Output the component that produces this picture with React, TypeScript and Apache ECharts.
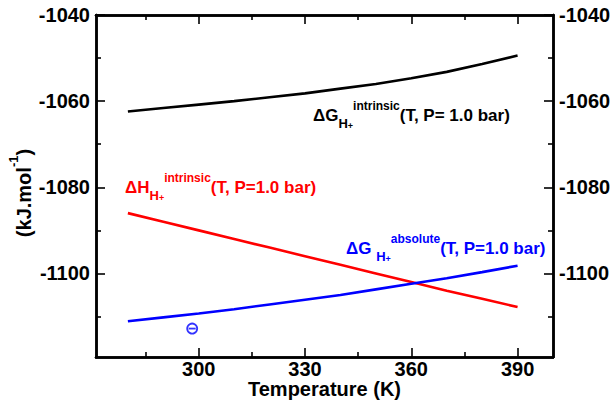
import { useEffect, useRef } from "react";
import * as echarts from "echarts";

const temperatures = [280, 290, 300, 310, 320, 330, 340, 350, 360, 370, 380, 390];
const dgIntrinsic = [-1062.4, -1061.6, -1060.8, -1060.0, -1059.1, -1058.2, -1057.1, -1056.0, -1054.7, -1053.2, -1051.4, -1049.4];
const dhIntrinsic = [-1086.0, -1088.0, -1090.0, -1092.0, -1094.0, -1096.0, -1098.0, -1100.0, -1102.0, -1104.0, -1105.9, -1107.8];
const dgAbsolute = [-1111.1, -1110.2, -1109.3, -1108.3, -1107.2, -1106.1, -1105.0, -1103.7, -1102.4, -1101.1, -1099.7, -1098.2];
const expPoint = [298.15, -1112.8];

const xMajorTicks = [300, 330, 360, 390];
const xMinorTicks = [285, 315, 345, 375];
const yMajorTicks = [-1100, -1080, -1060, -1040];
const yMinorTicks = [-1110, -1090, -1070, -1050];

const X_MIN = 271;
const X_MAX = 400;
const Y_MIN = -1119.4;
const Y_MAX = -1040;

const FONT = "'Liberation Sans', Arial, Helvetica, sans-serif";

const pairs = (ys: number[]) => temperatures.map((t, i) => [t, ys[i]]);
const plain = (v: number) => String(Math.round(v));

function xAxisDef(position: string, ticks: number[], len: number, labels: boolean, extra: any = {}) {
  return {
    type: "value",
    position,
    min: X_MIN,
    max: X_MAX,
    axisLine: { show: true, onZero: false, lineStyle: { color: "#000", width: 2.5 } },
    axisTick: { show: true, inside: true, length: len, customValues: ticks, lineStyle: { color: "#000", width: 1.6 } },
    axisLabel: labels
      ? { show: true, customValues: ticks, formatter: plain, color: "#000", fontSize: 20, fontWeight: "bold", fontFamily: FONT, margin: 4, lineHeight: 16 }
      : { show: false },
    splitLine: { show: false },
    ...extra,
  };
}

function yAxisDef(position: string, ticks: number[], len: number, labels: boolean, extra: any = {}) {
  return {
    type: "value",
    position,
    min: Y_MIN,
    max: Y_MAX,
    axisLine: { show: true, onZero: false, lineStyle: { color: "#000", width: 2.5 } },
    axisTick: { show: true, inside: true, length: len, customValues: ticks, lineStyle: { color: "#000", width: 1.6 } },
    axisLabel: labels
      ? { show: true, customValues: ticks, formatter: plain, color: "#000", fontSize: 20, fontWeight: "bold", fontFamily: FONT, margin: 6 }
      : { show: false },
    splitLine: { show: false },
    ...extra,
  };
}

function richLabel(color: string) {
  return {
    m: { fontSize: 17, fontWeight: "bold", fontFamily: FONT, lineHeight: 30, verticalAlign: "middle", fill: color, color },
    sup: { fontSize: 12, fontWeight: "bold", fontFamily: FONT, lineHeight: 10, verticalAlign: "top", fill: color, color },
    sub: { fontSize: 13, fontWeight: "bold", fontFamily: FONT, lineHeight: 16, verticalAlign: "bottom", fill: color, color },
    plus: { fontSize: 9, fontWeight: "bold", fontFamily: FONT, lineHeight: 22, verticalAlign: "bottom", fill: color, color },
  };
}

export default function App() {
  const ref = useRef<HTMLDivElement>(null);
  useEffect(() => {
    if (!ref.current) return;
    const chart = echarts.init(ref.current, undefined, { renderer: "svg" });
    chart.setOption({
      animation: false,
      backgroundColor: "#fff",
      textStyle: { fontFamily: FONT },
      grid: { left: 96, right: 61, top: 15, bottom: 43, containLabel: false, outerBoundsMode: "none" },
      xAxis: [
        xAxisDef("bottom", xMajorTicks, 9, true, {
          name: "Temperature (K)",
          nameLocation: "middle",
          nameGap: 24,
          nameMoveOverlap: false,
          nameTextStyle: { color: "#000", fontSize: 20, fontWeight: "bold", fontFamily: FONT, lineHeight: 16 },
        }),
        xAxisDef("bottom", xMinorTicks, 5, false),
        xAxisDef("top", xMajorTicks, 9, false),
        xAxisDef("top", xMinorTicks, 5, false),
      ],
      yAxis: [
        yAxisDef("left", yMajorTicks, 9, true),
        yAxisDef("left", yMinorTicks, 5, false),
        yAxisDef("right", yMajorTicks, 9, true),
        yAxisDef("right", yMinorTicks, 5, false),
      ],
      series: [
        {
          type: "line",
          data: pairs(dgIntrinsic),
          showSymbol: false,
          smooth: false,
          lineStyle: { color: "#000000", width: 2.6 },
          itemStyle: { color: "#000000" },
        },
        {
          type: "line",
          data: pairs(dhIntrinsic),
          showSymbol: false,
          smooth: false,
          lineStyle: { color: "#ff0000", width: 2.6 },
          itemStyle: { color: "#ff0000" },
        },
        {
          type: "line",
          data: pairs(dgAbsolute),
          showSymbol: false,
          smooth: false,
          lineStyle: { color: "#0000ff", width: 2.6 },
          itemStyle: { color: "#0000ff" },
        },
        {
          type: "scatter",
          data: [expPoint],
          symbol: "circle",
          symbolSize: 10,
          itemStyle: { color: "#ffffff", borderColor: "#0000ff", borderWidth: 1.8 },
          z: 5,
        },
        {
          type: "scatter",
          data: [expPoint],
          symbol: "rect",
          symbolSize: [7, 1.8],
          itemStyle: { color: "#0000ff" },
          z: 6,
        },
      ],
      graphic: [
        {
          type: "text",
          x: 24,
          y: 193,
          rotation: Math.PI / 2,
          style: {
            text: "{m|(kJ.mol}{s|-1}{m|)}",
            align: "center",
            verticalAlign: "middle",
            fill: "#000",
            rich: {
              m: { fontSize: 20, fontWeight: "bold", fontFamily: FONT, lineHeight: 34, verticalAlign: "middle", fill: "#000", color: "#000" },
              s: { fontSize: 13, fontWeight: "bold", fontFamily: FONT, lineHeight: 10, verticalAlign: "top", fill: "#000", color: "#000" },
            },
          },
        },
        {
          type: "text",
          x: 313,
          y: 100,
          style: {
            text: "{m|ΔG}{sub|H}{plus|+}{sup|intrinsic}{m|(T, P= 1.0 bar)}",
            rich: richLabel("#000000"),
            fill: "#000000",
            verticalAlign: "top",
          },
        },
        {
          type: "text",
          x: 125,
          y: 172,
          style: {
            text: "{m|ΔH}{sub|H}{plus|+}{sup|intrinsic}{m|(T, P=1.0 bar)}",
            rich: richLabel("#ff0000"),
            fill: "#ff0000",
            verticalAlign: "top",
          },
        },
        {
          type: "text",
          x: 346,
          y: 233,
          style: {
            text: "{m|ΔG }{sub|H}{plus|+}{sup|absolute}{m|(T, P=1.0 bar)}",
            rich: richLabel("#0000ff"),
            fill: "#0000ff",
            verticalAlign: "top",
          },
        },
      ],
    });
    return () => chart.dispose();
  }, []);
  return <div ref={ref} style={{ position: "fixed", left: 0, top: 0, width: 614, height: 400 }} />;
}
